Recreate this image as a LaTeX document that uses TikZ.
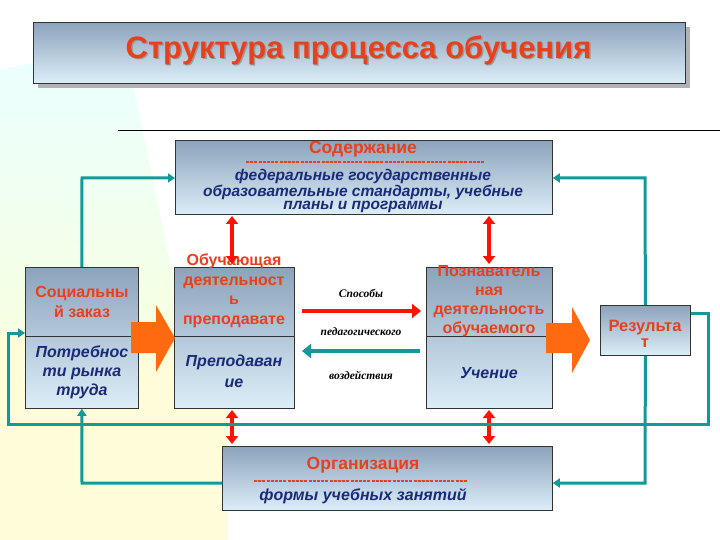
\documentclass[tikz,border=0pt]{standalone}
\usepackage{fontspec}
\setmainfont{Liberation Sans}
\newfontfamily\serifbi{Liberation Serif}
\usetikzlibrary{arrows.meta}
\definecolor{tealc}{HTML}{12999A}
\definecolor{redt}{HTML}{E8401C}
\definecolor{bluet}{HTML}{1B2A78}
\definecolor{orng}{HTML}{FF6A10}
\definecolor{boxtop}{HTML}{8CA3BC}
\definecolor{boxbot}{HTML}{DCEEF8}
\tikzset{
 box/.style={draw=black!80,line width=0.8pt,top color=boxtop,bottom color=boxbot,inner sep=0pt},
 tla/.style={tealc,line width=3pt,-{Triangle[length=7pt,width=9pt]}},
 dbl/.style={red!85!orange,line width=4.5pt,{Triangle[length=8pt,width=12pt]}-{Triangle[length=8pt,width=12pt]}},
 rt/.style={text=redt,font=\bfseries\fontsize{17.5}{19}\selectfont,align=center},
 bt/.style={text=bluet,font=\bfseries\itshape\fontsize{16}{17}\selectfont,align=center},
 st/.style={font=\serifbi\bfseries\itshape\fontsize{11.5}{12}\selectfont},
 dsh/.style={redt,line width=1.3pt,dash pattern=on 3pt off 1.2pt}
}
\begin{document}
\begin{tikzpicture}[x=1pt,y=-1pt]
\useasboundingbox (0,0) rectangle (720,540);
% background
\shade[top color=cyan!8,bottom color=yellow!20] (0,70) .. controls (60,55) and (100,58) .. (130,70) -- (228,540) -- (0,540) -- cycle;
\fill[yellow!15] (0,330) rectangle (228,540);
% title
\fill[gray!60] (38,27) rectangle (690,88);
\node[box,minimum width=652pt,minimum height=61pt,anchor=north west] (title) at (33,22) {};
\node[text=black!40,font=\bfseries\fontsize{31}{33}\selectfont] at (360,51.5) {Структура процесса обучения};
\node[text=redt,font=\bfseries\fontsize{31}{33}\selectfont] (tt) at (358.5,50) {Структура процесса обучения};
\draw[line width=1pt] (118,131) -- (720,131);
% boxes
\node[box,minimum width=377pt,minimum height=74pt,anchor=north west] (cont) at (175,140) {};
\node[rt] at (363,149) {Содержание};
\draw[dsh] (246,162) -- (484,162);
\node[bt,font=\bfseries\itshape\fontsize{15.5}{13}\selectfont] at (363,191) {федеральные государственные\\образовательные стандарты, учебные\\планы и программы};

\node[box,minimum width=113pt,minimum height=141pt,anchor=north west] (soc) at (25,267) {};
\draw[black!80,line width=0.8pt] (25,336) -- (138,336);
\node[rt,font=\bfseries\fontsize{16}{20}\selectfont] at (82,302) {Социальны\\й заказ};
\node[bt,font=\bfseries\itshape\fontsize{16}{19}\selectfont] at (82,372) {Потребнос\\ти рынка\\труда};

\node[box,minimum width=120pt,minimum height=141pt,anchor=north west] (teach) at (174,267) {};
\draw[black!80,line width=0.8pt] (174,336) -- (294,336);
\node[rt,font=\bfseries\fontsize{16}{19.5}\selectfont] at (234,291) {Обучающая\\деятельност\\ь\\преподавате};
\node[bt,font=\bfseries\itshape\fontsize{16}{21}\selectfont] at (234,371) {Преподаван\\ие};

\node[box,minimum width=126pt,minimum height=141pt,anchor=north west] (learn) at (426,267) {};
\draw[black!80,line width=0.8pt] (426,336) -- (552,336);
\node[rt,font=\bfseries\fontsize{16}{19}\selectfont] at (489,301) {Познаватель\\ная\\деятельность\\обучаемого};
\node[bt] at (489,373) {Учение};

\node[box,minimum width=90pt,minimum height=50pt,anchor=north west] (res) at (600,305) {};
\node[rt,font=\bfseries\fontsize{16.5}{16}\selectfont] at (645,334) {Результа\\т};

\node[box,minimum width=330pt,minimum height=64pt,anchor=north west] (org) at (222,446) {};
\node[rt] at (363,465) {Организация};
\draw[dsh] (254,481) -- (468,481);
\node[bt] at (363,496) {формы учебных занятий};

% middle labels and arrows
\node[st] (s1) at (361,293) {Способы};
\node[st] (s2) at (361,332) {педагогического};
\node[st] (s3) at (361,375) {воздействия};
\coordinate (r1) at (302,311); \coordinate (r2) at (421,311);
\coordinate (g1) at (420,351); \coordinate (g2) at (302,351);
\draw[red!85!orange,line width=4.5pt,-{Triangle[length=9pt,width=14pt]}] (r1) -- (r2);
\draw[tealc,line width=4.5pt,-{Triangle[length=9pt,width=14pt]}] (g1) -- (g2);

% big orange arrows
\fill[orng] (131,322) -- (156,322) -- (156,305) -- (175,338) -- (156,372) -- (156,353) -- (131,353) -- cycle;
\fill[orng] (546,323) -- (572,323) -- (572,307) -- (590,340) -- (572,373) -- (572,353) -- (546,353) -- cycle;

% red double arrows
\draw[dbl] (232,216) -- (232,264);
\draw[dbl] (489,216) -- (489,264);
\draw[dbl] (232,410) -- (232,444);
\draw[dbl] (489,410) -- (489,444);

% teal connectors
\draw[tla] (soc.north) -- (82,178) -- (cont.west |- 0,178);
\draw[tla] (res.north) -- (645,178) -- (cont.east |- 0,178);
\coordinate (bl) at (8,424); \coordinate (br) at (708,424);
\draw[tla] (res.east |- 0,313) -- (708,313) -- (br) -- (bl) -- (8,333) -- (soc.west |- 0,333);
\draw[tla] (org.west |- 0,483) -- (82,483) -- (soc.south);
\draw[tla] (res.south) -- (645,483) -- (org.east |- 0,483);
\end{tikzpicture}
\end{document}
